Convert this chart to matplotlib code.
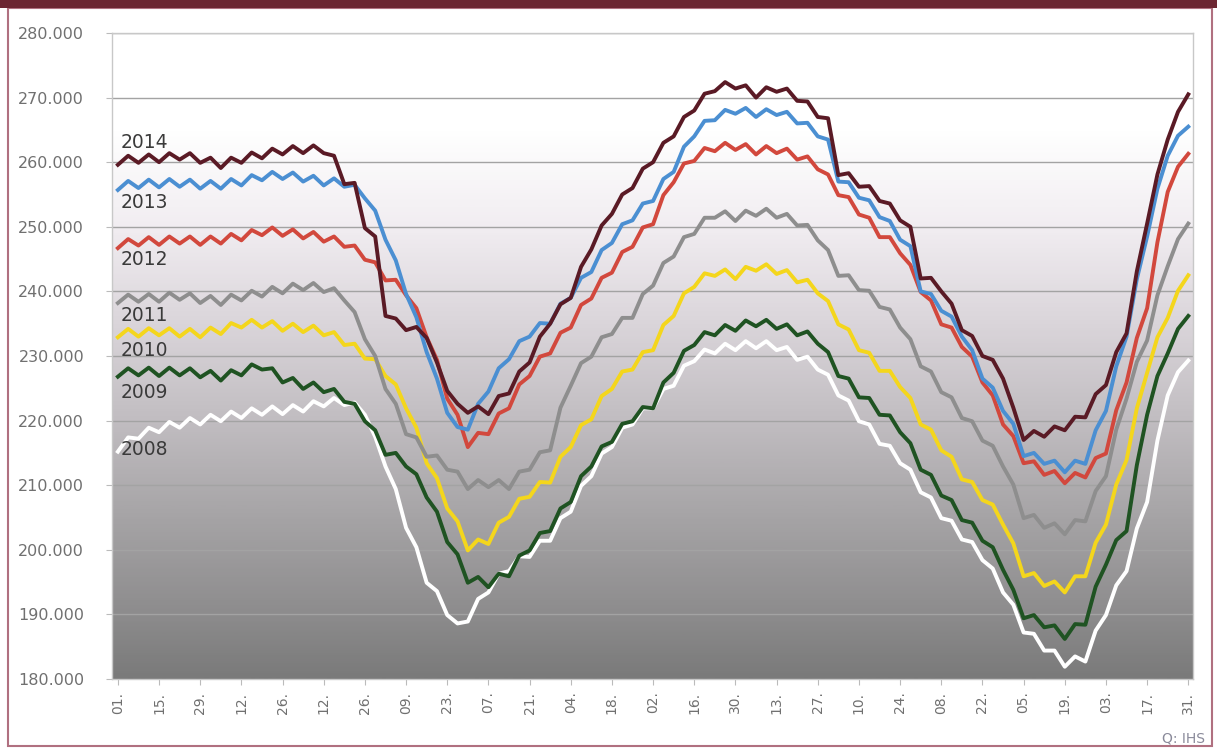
import numpy as np
import matplotlib
matplotlib.use("Agg")
import matplotlib.pyplot as plt
from matplotlib.colors import LinearSegmentedColormap
from matplotlib.patches import Rectangle
from matplotlib.ticker import FuncFormatter

# ---------------- data (values in thousands, one value every half week) ----------------
tick_labels = ["01.", "15.", "29.", "12.", "26.", "12.", "26.", "09.", "23.", "07.",
               "21.", "04.", "18.", "02.", "16.", "30.", "13.", "27.", "10.", "24.",
               "08.", "22.", "05.", "19.", "03.", "17.", "31."]
tick_days = [0, 14, 28, 42, 56, 70, 84, 98, 112, 126, 140, 154, 168, 182, 196, 210,
             224, 238, 252, 266, 280, 294, 308, 322, 336, 350, 364]

years = ["2008", "2009", "2010", "2011", "2012", "2013", "2014"]

s2014 = [259.6, 261.0, 259.9, 261.2, 260.0, 261.4, 260.4, 261.4, 259.9, 260.7,
         259.1, 260.7, 259.9, 261.5, 260.6, 262.1, 261.2, 262.5, 261.4, 262.6,
         261.4, 261.0, 256.6, 256.8, 249.8, 248.5, 236.2, 235.8, 234.0, 234.5,
         232.8, 229.0, 224.6, 222.6, 221.2, 222.2, 221.0, 223.8, 224.2, 227.6,
         229.0, 233.0, 235.0, 238.0, 239.0, 243.8, 246.5, 250.2, 252.0, 255.0,
         256.0, 259.0, 260.0, 263.0, 264.0, 267.0, 268.0, 270.6, 271.0, 272.4,
         271.4, 271.9, 270.0, 271.6, 270.9, 271.4, 269.5, 269.4, 267.0, 266.8,
         258.0, 258.3, 256.2, 256.3, 254.0, 253.6, 251.0, 250.0, 242.0, 242.1,
         240.0, 238.1, 234.0, 233.1, 230.0, 229.4, 226.5, 222.0, 217.0, 218.4,
         217.5, 219.1, 218.5, 220.6, 220.5, 224.1, 225.5, 230.6, 233.5, 243.1,
         250.5, 258.1, 263.5, 267.8, 270.5]

s2013 = [255.7, 257.1, 256.0, 257.3, 256.1, 257.4, 256.2, 257.3, 255.9, 257.1,
         255.9, 257.4, 256.4, 258.0, 257.2, 258.5, 257.4, 258.4, 257.0, 257.9,
         256.4, 257.5, 256.2, 256.5, 254.4, 252.5, 248.0, 244.8, 239.6, 236.0,
         230.6, 226.5, 221.2, 219.0, 218.6, 222.6, 224.5, 228.1, 229.5, 232.3,
         233.0, 235.1, 235.0, 238.1, 239.0, 242.1, 243.0, 246.4, 247.5, 250.4,
         251.0, 253.6, 254.0, 257.4, 258.5, 262.4, 264.0, 266.4, 266.5, 268.1,
         267.5, 268.4, 267.0, 268.2, 267.3, 267.8, 266.0, 266.1, 264.0, 263.5,
         257.0, 256.9, 254.5, 254.1, 251.5, 250.9, 248.0, 247.0, 240.0, 239.6,
         237.0, 236.1, 233.0, 230.9, 226.5, 225.1, 221.5, 219.5, 214.5, 215.0,
         213.3, 213.8, 212.0, 213.8, 213.3, 218.5, 221.5, 228.4, 233.0, 241.9,
         248.5, 255.9, 261.0, 264.1, 265.5]

s2012 = [246.7, 248.1, 247.1, 248.4, 247.2, 248.5, 247.4, 248.5, 247.2, 248.5,
         247.4, 248.9, 247.9, 249.5, 248.7, 249.9, 248.6, 249.6, 248.2, 249.2,
         247.7, 248.5, 246.9, 247.1, 244.9, 244.5, 241.7, 241.8, 239.4, 237.4,
         232.9, 229.4, 223.4, 220.9, 215.9, 218.1, 217.9, 221.1, 221.9, 225.6,
         226.9, 229.9, 230.4, 233.6, 234.4, 237.9, 238.9, 242.1, 242.9, 246.1,
         246.9, 249.9, 250.4, 254.9, 256.9, 259.8, 260.2, 262.2, 261.7, 263.0,
         261.9, 262.8, 261.2, 262.5, 261.4, 262.1, 260.4, 260.9, 258.9, 258.1,
         254.9, 254.6, 251.9, 251.4, 248.4, 248.4, 245.9, 244.1, 239.9, 238.6,
         234.9, 234.4, 231.4, 229.9, 225.9, 223.9, 219.4, 217.6, 213.4, 213.7,
         211.6, 212.2, 210.3, 211.9, 211.2, 214.2, 214.9, 221.6, 225.9, 232.8,
         237.4, 247.6, 255.4, 259.3, 261.3]

s2011 = [238.2, 239.5, 238.4, 239.6, 238.4, 239.8, 238.7, 239.7, 238.2, 239.3,
         237.9, 239.5, 238.6, 240.1, 239.2, 240.7, 239.7, 241.2, 240.2, 241.3,
         239.9, 240.5, 238.6, 236.8, 232.6, 230.0, 224.9, 222.6, 217.9, 217.4,
         214.4, 214.6, 212.4, 212.1, 209.4, 210.8, 209.7, 210.8, 209.4, 212.1,
         212.4, 215.1, 215.4, 222.0, 225.4, 228.9, 229.9, 232.9, 233.4, 235.9,
         235.9, 239.6, 240.9, 244.4, 245.4, 248.4, 248.9, 251.4, 251.4, 252.4,
         250.9, 252.5, 251.7, 252.8, 251.4, 252.0, 250.2, 250.3, 247.9, 246.4,
         242.4, 242.5, 240.2, 240.1, 237.6, 237.2, 234.4, 232.6, 228.4, 227.6,
         224.4, 223.6, 220.4, 219.9, 216.9, 216.1, 212.9, 210.1, 204.9, 205.4,
         203.4, 204.1, 202.4, 204.6, 204.4, 209.1, 211.4, 218.6, 223.4, 229.1,
         232.4, 239.4, 243.9, 248.1, 250.5]

s2010 = [232.9, 234.2, 233.0, 234.3, 233.2, 234.3, 233.0, 234.2, 232.9, 234.4,
         233.4, 235.1, 234.4, 235.6, 234.4, 235.4, 233.9, 235.0, 233.7, 234.7,
         233.2, 233.7, 231.7, 231.9, 229.6, 229.5, 226.9, 225.6, 221.9, 218.9,
         213.4, 211.1, 206.4, 204.4, 199.9, 201.6, 200.9, 204.2, 205.1, 207.9,
         208.2, 210.5, 210.4, 214.4, 215.9, 219.3, 220.2, 223.8, 224.9, 227.6,
         227.9, 230.6, 230.9, 234.8, 236.2, 239.7, 240.7, 242.8, 242.4, 243.4,
         241.9, 243.8, 243.2, 244.2, 242.7, 243.3, 241.4, 241.8, 239.7, 238.5,
         234.9, 234.1, 230.9, 230.5, 227.7, 227.7, 225.2, 223.5, 219.4, 218.6,
         215.4, 214.4, 210.9, 210.5, 207.7, 207.0, 203.9, 201.0, 195.9, 196.4,
         194.4, 195.1, 193.4, 195.9, 195.9, 201.1, 203.9, 210.1, 213.9, 221.9,
         227.4, 232.9, 235.9, 240.1, 242.5]

s2009 = [226.8, 228.1, 227.0, 228.2, 226.9, 228.2, 227.0, 228.1, 226.7, 227.7,
         226.2, 227.8, 227.0, 228.7, 227.9, 228.1, 225.9, 226.6, 224.9, 225.9,
         224.4, 224.9, 222.9, 222.6, 219.9, 218.5, 214.7, 215.0, 212.9, 211.7,
         208.1, 205.9, 201.2, 199.3, 194.9, 195.8, 194.2, 196.3, 195.9, 199.1,
         199.9, 202.6, 202.9, 206.4, 207.4, 211.4, 212.9, 216.0, 216.7, 219.5,
         219.9, 222.1, 221.9, 225.9, 227.4, 230.8, 231.7, 233.7, 233.2, 234.8,
         233.9, 235.5, 234.6, 235.6, 234.2, 234.9, 233.2, 233.8, 231.9, 230.6,
         226.9, 226.5, 223.6, 223.5, 220.9, 220.8, 218.2, 216.5, 212.4, 211.6,
         208.4, 207.7, 204.6, 204.2, 201.4, 200.4, 196.9, 193.8, 189.4, 189.9,
         188.0, 188.3, 186.2, 188.5, 188.4, 194.3, 197.7, 201.5, 202.9, 213.1,
         220.9, 226.9, 230.4, 234.2, 236.2]

s2008 = [215.2, 217.4, 217.2, 218.9, 218.2, 219.8, 218.9, 220.4, 219.4, 220.9,
         219.9, 221.4, 220.4, 221.9, 220.9, 222.2, 221.0, 222.4, 221.4, 223.0,
         222.2, 223.5, 222.4, 222.8, 220.9, 217.5, 212.9, 209.4, 203.4, 200.4,
         194.9, 193.6, 189.9, 188.6, 188.9, 192.4, 193.4, 196.3, 196.7, 199.0,
         198.9, 201.4, 201.4, 204.9, 205.9, 209.9, 211.4, 214.9, 215.9, 218.9,
         219.4, 221.9, 221.9, 224.9, 225.4, 228.5, 229.2, 231.0, 230.4, 231.9,
         230.9, 232.3, 231.2, 232.3, 230.9, 231.4, 229.4, 229.9, 227.9, 227.1,
         223.9, 223.1, 219.9, 219.4, 216.4, 216.1, 213.4, 212.4, 208.9, 208.1,
         204.9, 204.5, 201.6, 201.2, 198.4, 197.1, 193.4, 191.5, 187.2, 187.0,
         184.4, 184.4, 181.9, 183.5, 182.7, 187.5, 189.9, 194.5, 196.7, 203.3,
         207.4, 216.9, 223.9, 227.5, 229.3]

series = [s2008, s2009, s2010, s2011, s2012, s2013, s2014]

# ---------------- styling ----------------
colors = ["#FFFFFF", "#1F5322", "#F4D61C", "#8E8E8E", "#D2483D", "#4B8FD2", "#5A1A25"]
label_y = [215.6, 224.4, 230.9, 236.2, 244.9, 253.7, 263.0]
frame_col = "#6C2632"

W, H = 1217, 748
fig = plt.figure(figsize=(W / 100, H / 100), dpi=100)
fig.patch.set_facecolor("white")

ax = fig.add_axes([112 / W, 1 - 679 / H, (1193 - 112) / W, (679 - 33) / H])

xmin, xmax = -2.0, 365.6
ymin, ymax = 180.0, 280.0

# background gradient (row 0 = top = white)
grad_cmap = LinearSegmentedColormap.from_list(
    "bg",
    [(0.0, "#FFFFFF"), (0.15, "#FFFFFF"), (0.30, "#F1EDF1"), (0.45, "#DAD5DA"),
     (0.60, "#C1BDC1"), (0.75, "#A6A4A6"), (0.90, "#8D8C8D"), (1.0, "#7A7A7A")])
grad = np.linspace(0, 1, 400).reshape(-1, 1)
ax.imshow(grad, extent=[xmin, xmax, ymin, ymax], aspect="auto", cmap=grad_cmap,
          zorder=0, origin="upper")

ax.set_xlim(xmin, xmax)
ax.set_ylim(ymin, ymax)

for yv in np.arange(190, 281, 10):
    ax.axhline(yv, color="#A3A3A3", lw=1.0, zorder=1)

x = np.arange(len(s2014)) * 3.5
for yr, s, c in zip(years, series, colors):
    ax.plot(x, s, color=c, lw=2.8, solid_joinstyle="round", zorder=3)

for yr, ly in zip(years[::-1], label_y[::-1]):
    ax.text(0.8, ly, yr, fontsize=13.5, color="#3A3A3A", va="center", ha="left", zorder=4)

ax.set_yticks(np.arange(180, 281, 10))
ax.yaxis.set_major_formatter(FuncFormatter(lambda v, p: f"{int(round(v))}.000"))
ax.set_xticks(tick_days)
ax.set_xticklabels(tick_labels, rotation=90, va="top", ha="center")
ax.tick_params(axis="y", labelsize=11.5, labelcolor="#707070", color="#BBBBBB",
               length=4, pad=16)
ax.tick_params(axis="x", labelsize=10, labelcolor="#707070", color="#BBBBBB",
               length=4, pad=5)
for sp in ax.spines.values():
    sp.set_color("#C8C8C8")
    sp.set_linewidth(1.0)

fig.text(1205 / W, 1 - 738 / H, "Q: IHS", fontsize=10, color="#8A8A9A",
         ha="right", va="center")

# frame
fig.patches.append(Rectangle((8 / W, 2 / H), (1212 - 8) / W, (740 - 2) / H,
                             transform=fig.transFigure, fill=False,
                             edgecolor="#B07080", lw=1.5))
fig.patches.append(Rectangle((0, 1 - 8 / H), 1, 8 / H, transform=fig.transFigure,
                             facecolor=frame_col, edgecolor="none"))

fig.savefig("out.png", dpi=100, facecolor="white")
